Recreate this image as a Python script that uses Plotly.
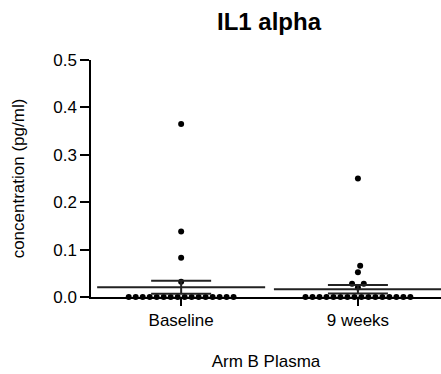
import plotly.graph_objects as go

categories = ["Baseline", "9 weeks"]
baseline_values = [0.0] * 16 + [0.032, 0.083, 0.138, 0.365]
week9_values = [0.0] * 16 + [0.020, 0.028, 0.028, 0.052, 0.066, 0.250]
means = [0.0206, 0.0165]
sems = [0.0138, 0.0090]
y_ticks = [0.0, 0.1, 0.2, 0.3, 0.4, 0.5]

# pixel geometry used only for the dot spreading (beeswarm)
PX_PER_Y = 475.0
PX_PER_X = 177.0
DOT = 7.0


def swarm(values):
    placed = []
    out = []
    groups = {}
    for v in values:
        groups[v] = groups.get(v, 0) + 1
    for v in sorted(groups):
        n = groups[v]
        y = v * PX_PER_Y
        if n == 1:
            off = 0.0
            xs = None
            while xs is None:
                for cand in (off, -off):
                    if all(((cand - px) ** 2 + (y - py) ** 2) ** 0.5 >= DOT - 0.01
                           for (px, py) in placed):
                        xs = [cand]
                        break
                off += 0.25
        else:
            spacing = DOT
            while True:
                xs = [(i - (n - 1) / 2) * spacing for i in range(n)]
                if all(((x - px) ** 2 + (y - py) ** 2) ** 0.5 >= DOT - 0.01
                       for x in xs for (px, py) in placed):
                    break
                spacing += 0.25
        for x in xs:
            placed.append((x, y))
            out.append((x / PX_PER_X, v))
    return out


fig = go.Figure()
for i, vals in enumerate([baseline_values, week9_values]):
    pts = swarm(vals)
    fig.add_trace(go.Scatter(
        x=[i + p[0] for p in pts], y=[p[1] for p in pts],
        mode="markers", marker=dict(color="black", size=6),
        showlegend=False, hoverinfo="skip", cliponaxis=False))

# mean line + SEM
fig.add_trace(go.Scatter(
    x=[0, 1], y=means, mode="markers",
    marker=dict(symbol="line-ew", size=120, color="#222222",
                line=dict(color="#222222", width=2)),
    error_y=dict(type="data", array=sems, visible=True, width=30,
                 thickness=2, color="#222222"),
    showlegend=False, hoverinfo="skip"))

fig.update_layout(
    width=441, height=374,
    margin=dict(l=91, r=0, t=60, b=76.5),
    paper_bgcolor="white", plot_bgcolor="white",
    font=dict(family="Liberation Sans, Arial, sans-serif", size=17, color="black"),
    title=dict(text="<b>IL1 alpha</b>", x=0.61, xanchor="center",
               y=1 - 22 / 374, yanchor="middle", yref="container",
               font=dict(size=24, color="black")),
    xaxis=dict(range=[-0.51, 1.47], tickvals=[0, 1], ticktext=categories,
               showline=True, linecolor="black", linewidth=1.5,
               ticks="outside", ticklen=7, tickwidth=1.5, tickcolor="black",
               showgrid=False, zeroline=False, tickfont=dict(size=17),
               title=dict(text="Arm B Plasma", standoff=26,
                          font=dict(size=17))),
    yaxis=dict(range=[0, 0.5], tickvals=y_ticks,
               ticktext=[f"{t:.1f}" for t in y_ticks],
               showline=True, linecolor="black", linewidth=1.5,
               ticks="outside", ticklen=9, tickwidth=1.5, tickcolor="black",
               showgrid=False, zeroline=False, tickfont=dict(size=17),
               title=dict(text="concentration (pg/ml)", standoff=24,
                          font=dict(size=17))),
)

fig.write_html("out.html")
